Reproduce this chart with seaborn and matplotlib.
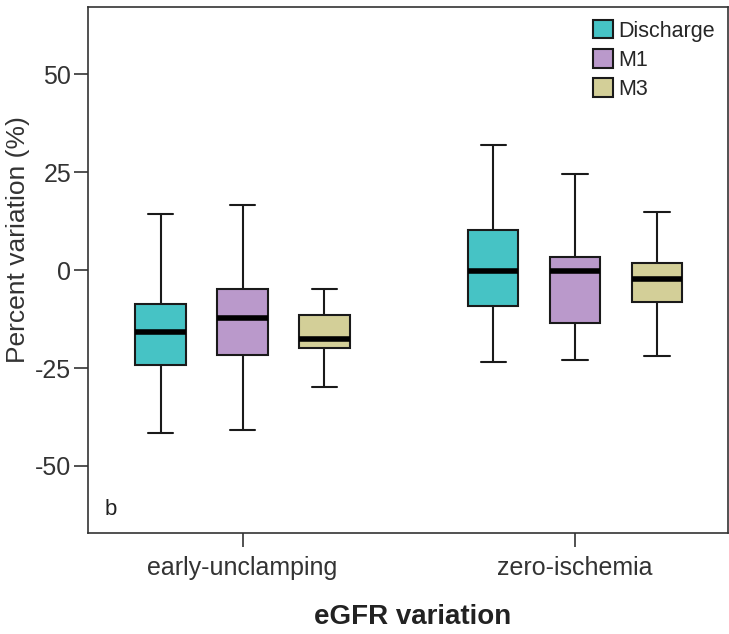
import numpy as np
import pandas as pd
import seaborn as sns
import matplotlib.pyplot as plt

groups = ["early-unclamping", "zero-ischemia"]
times = ["Discharge", "M1", "M3"]

# five-number summaries: min, q1, median, q3, max
early_discharge = [-41.7, -24.3, -15.7, -8.7, 14.3]
early_m1 = [-40.7, -21.7, -12.3, -4.9, 16.6]
early_m3 = [-29.8, -20.0, -17.7, -11.5, -4.7]
zero_discharge = [-23.4, -9.1, -0.2, 10.2, 31.9]
zero_m1 = [-23.0, -13.4, -0.2, 3.4, 24.5]
zero_m3 = [-21.9, -8.1, -2.3, 1.7, 14.9]

palette = {"Discharge": "#46C3C5", "M1": "#BA99CB", "M3": "#D3CF98"}

summaries = {
    ("early-unclamping", "Discharge"): early_discharge,
    ("early-unclamping", "M1"): early_m1,
    ("early-unclamping", "M3"): early_m3,
    ("zero-ischemia", "Discharge"): zero_discharge,
    ("zero-ischemia", "M1"): zero_m1,
    ("zero-ischemia", "M3"): zero_m3,
}
rows = []
for (grp, tm), vals in summaries.items():
    for v in vals:
        rows.append({"group": grp, "time": tm, "value": v})
df = pd.DataFrame(rows)

sns.set_style("white")
plt.rcParams["font.family"] = ["Liberation Sans", "DejaVu Sans"]
plt.rcParams["axes.unicode_minus"] = False

fig = plt.figure(figsize=(7.29, 6.34), dpi=100)
ax = fig.add_axes([0.1207, 0.1588, 0.8779, 0.8302])

sns.boxplot(
    data=df, x="group", y="value", hue="time",
    order=groups, hue_order=times, palette=palette, saturation=1,
    whis=(0, 100), width=0.739, gap=0.383,
    linecolor="#1a1a1a", linewidth=1.5,
    medianprops={"linewidth": 4, "color": "black"},
    ax=ax,
)

ax.set_ylim(-67.2, 67.2)
ax.set_xlim(-0.465, 1.46)
ax.set_yticks([-50, -25, 0, 25, 50])

for s in ax.spines.values():
    s.set_visible(True)
    s.set_color("#333333")
    s.set_linewidth(1.2)

ax.tick_params(axis="both", direction="out", length=10, width=1.2,
               color="#333333", labelsize=18, labelcolor="#333333",
               bottom=True, left=True)
ax.tick_params(axis="y", pad=2)
ax.tick_params(axis="x", pad=6)

ax.set_xlabel("eGFR variation", fontsize=20, fontweight="bold", color="#222222")
ax.set_ylabel("Percent variation (%)", fontsize=19, color="#333333")
ax.xaxis.set_label_coords(0.508, -0.135)
ax.yaxis.set_label_coords(-0.09, 0.559)

ax.text(0.026, 0.025, "b", transform=ax.transAxes, fontsize=16,
        ha="left", va="bottom", color="#222222")

ax.legend(loc="upper right", frameon=False, fontsize=15.5,
          handlelength=0.95, handleheight=0.95, handletextpad=0.25,
          labelspacing=0.35, borderaxespad=0.3, borderpad=0.3)

fig.savefig("out.png", dpi=100)
